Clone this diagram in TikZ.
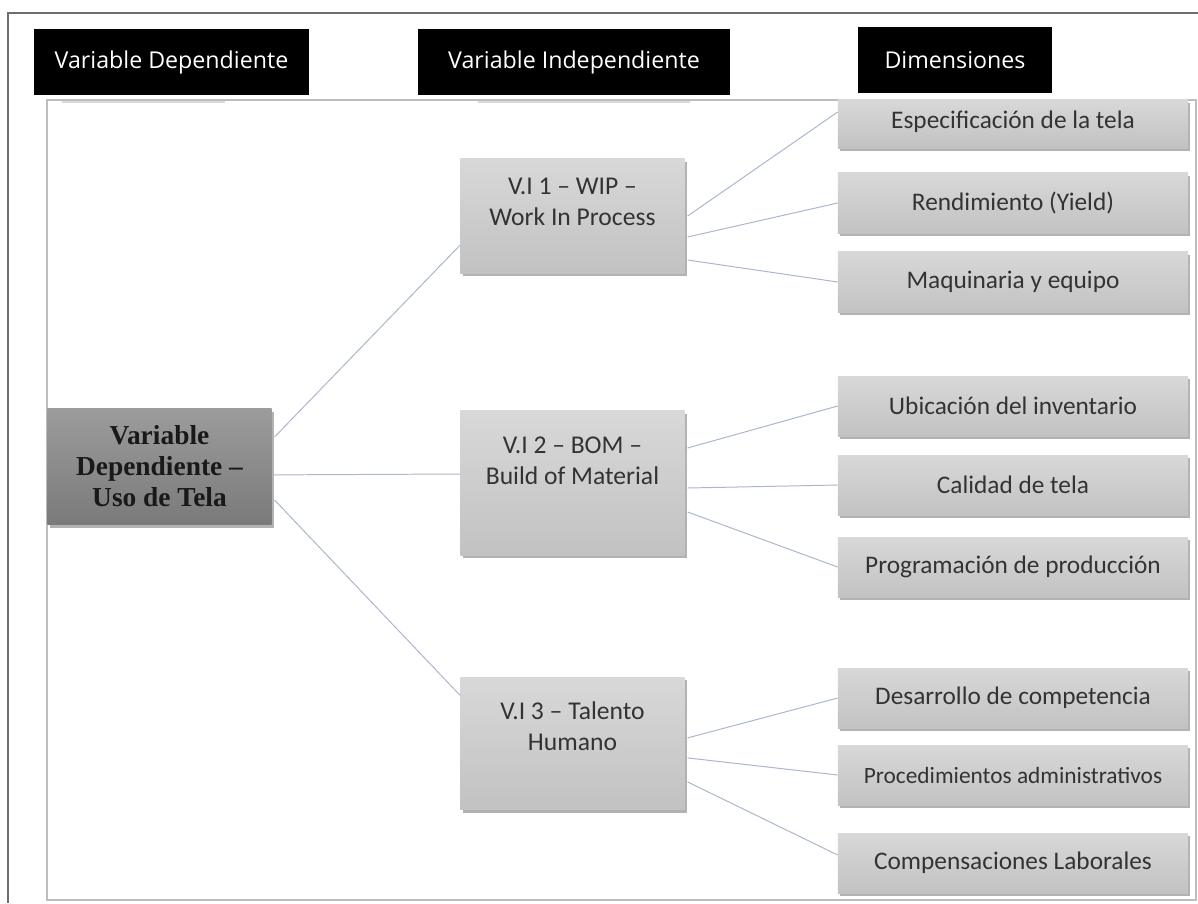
\documentclass[tikz,border=0pt]{standalone}
\usepackage{fontspec}
\setmainfont{Carlito}
\newfontfamily\headfont{Open Sans}
\newfontfamily\serifbold{Liberation Serif}
\usetikzlibrary{shadows}
\definecolor{frame}{HTML}{6E6E6E}
\definecolor{inner}{HTML}{BDBDBD}
\definecolor{boxtop}{HTML}{D8D8D8}
\definecolor{boxbot}{HTML}{C2C2C2}
\definecolor{deptop}{HTML}{9C9C9C}
\definecolor{depbot}{HTML}{7A7A7A}
\definecolor{wire}{HTML}{A9B6CC}
\definecolor{ink}{HTML}{333333}

\begin{document}
\begin{tikzpicture}[x=0.025cm,y=-0.025cm,head/.style={fill=black,text=white,font=\headfont\fontsize{16.5}{19}\selectfont,minimum height=1.65cm,inner sep=0pt},shade/.style={drop shadow={shadow xshift=0.06cm,shadow yshift=-0.08cm,fill=black,opacity=0.3}},dim/.style={shade,top color=boxtop,bottom color=boxbot,draw=none,text=ink,minimum width=8.75cm,minimum height=1.5cm,font=\fontsize{18}{21}\selectfont,inner sep=0pt},indep/.style={shade,top color=boxtop,bottom color=boxbot,draw=none,text=ink,align=center,minimum width=5.6cm,font=\fontsize{18.2}{22}\selectfont,inner sep=0pt},dep/.style={shade,top color=deptop,bottom color=depbot,draw=none,text=black!90,align=center,minimum width=5.6cm,minimum height=2.9cm,font=\serifbold\bfseries\fontsize{19.5}{22}\selectfont,inner sep=0pt},link/.style={draw=wire,line width=0.7pt}]
\useasboundingbox (0,0) rectangle (1198,903);
\draw[frame,line width=0.8pt] (1198,13) -- (8,13) -- (8,903);
\draw[inner,line width=0.8pt] (47,100) rectangle (1196,900);
\draw[black!15,line width=1.5pt] (62,102) -- (225,102);
\draw[black!15,line width=1.5pt] (478,102) -- (690,102);
% dimension boxes
\node[dim,minimum height=1.2cm] (espec) at (1013,124) {\raisebox{0.2cm}{Especificación de la tela}};
\node[dim] (rend) at (1013,203) {Rendimiento (Yield)};
\node[dim] (maq) at (1013,282) {Maquinaria y equipo};
\node[dim] (ubic) at (1013,406) {Ubicación del inventario};
\node[dim] (cal) at (1013,485) {Calidad de tela};
\node[dim] (prog) at (1013,567) {Programación de producción};
\node[dim] (desa) at (1013,698) {Desarrollo de competencia};
\node[dim] (proc) at (1013,775) {\fontsize{16.6}{19}\selectfont Procedimientos administrativos};
\node[dim] (comp) at (1013,863) {Compensaciones Laborales};
% headers
\node[head,minimum width=6.875cm] (hdep) at (171.5,62) {Variable Dependiente};
\node[head,minimum width=7.8cm] (hind) at (574,62) {Variable Independiente};
\node[head,minimum width=4.85cm] (hdim) at (955,60) {Dimensiones};
% independent variables
\node[indep,minimum height=2.85cm] (wip) at (572.5,216) {V.I 1 – WIP –\\Work In Process\\[-0.08cm]};
\node[indep,minimum height=3.6cm] (bom) at (572.5,483) {V.I 2 – BOM –\\Build of Material\\[0.32cm]};
\node[indep,minimum height=3.32cm] (tal) at (572.5,743.5) {V.I 3 – Talento\\Humano\\[0.1cm]};
\node[dep] (dep) at (159.5,466.5) {Variable\\Dependiente –\\Uso de Tela};
\draw[link] ([xshift=0.07cm,yshift=0.74cm]dep.east) -- ([yshift=-0.725cm]wip.west);
\draw[link] ([yshift=-0.21cm]dep.east) -- ([yshift=0.225cm]bom.west);
\draw[link] ([xshift=0.07cm,yshift=-0.84cm]dep.east) -- ([yshift=1.2cm]tal.west);
\draw[link] ([xshift=0.07cm]wip.east) -- ([yshift=0.3cm]espec.west);
\draw[link] ([xshift=0.07cm,yshift=-0.525cm]wip.east) -- (rend.west);
\draw[link] ([xshift=0.07cm,yshift=-1.1cm]wip.east) -- (maq.west);
\draw[link] ([xshift=0.07cm,yshift=0.875cm]bom.east) -- (ubic.west);
\draw[link] ([xshift=0.07cm,yshift=-0.125cm]bom.east) -- (cal.west);
\draw[link] ([xshift=0.07cm,yshift=-0.725cm]bom.east) -- (prog.west);
\draw[link] ([xshift=0.07cm,yshift=0.14cm]tal.east) -- (desa.west);
\draw[link] ([xshift=0.07cm,yshift=-0.36cm]tal.east) -- (proc.west);
\draw[link] ([xshift=0.07cm,yshift=-0.96cm]tal.east) -- ([yshift=0.2cm]comp.west);
\end{tikzpicture}
\end{document}
